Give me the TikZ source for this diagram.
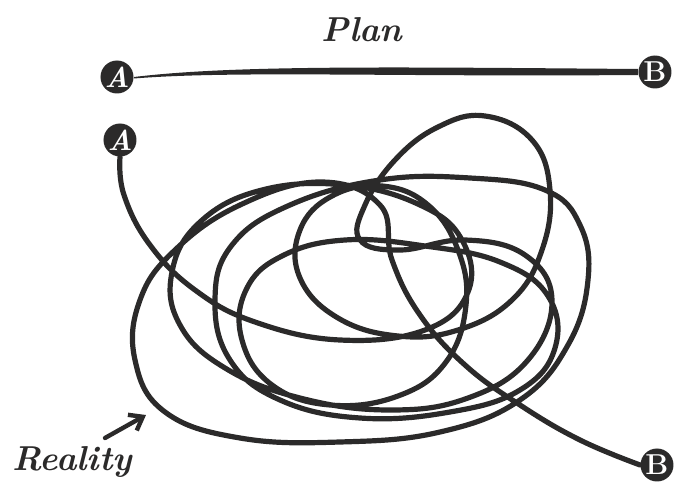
\documentclass[tikz,border=0pt]{standalone}
\usepackage{tikz}
\usetikzlibrary{arrows.meta,positioning,calc}
\definecolor{ink}{HTML}{2B2A2A}

\begin{document}
\begin{tikzpicture}[
    x=0.5pt, y=-0.5pt,
    pin/.style={circle, fill=ink, text=white, minimum size=16.5pt, inner sep=0pt, font=\bfseries\Large},
    wire/.style={draw=ink, line width=2.6pt, line cap=round, line join=round},
    caption/.style={text=ink, font=\bfseries\itshape\LARGE}
]
\useasboundingbox (0,0) rectangle (677,487);

% plan
\node[caption] (plan) at (362,30) {Plan};
\node[pin] (planA) at (117,77) {\itshape A};
\node[pin] (planB) at (655,72) {B};
\fill[ink] (planA.east) .. controls +(100,-12) and +(-250,-2) .. ($(planB.west)+(0,-3)$)
    -- ($(planB.west)+(0,3)$) .. controls +(-250,2) and +(100,-8) .. ($(planA.east)+(0,1.5)$) -- cycle;

% reality
\node[pin] (realA) at (120,140) {\itshape A};
\node[pin] (realB) at (657,465) {B};
\draw[wire] plot[smooth, tension=0.7] coordinates {
    (realA.south) (124,195) (150,245) (195,290) (255,322) (340,340) (425,330)
    (468,292) (462,240) (420,205) (345,185) (262,190) (200,222) (172,272)
    (180,325) (225,368) (300,398) (390,410) (468,398) (528,360) (552,300)
    (525,255) (465,240) (400,250) (360,240) (365,205) (395,160) (438,127)
    (485,116) (532,140) (550,190) (542,250) (512,300) (458,330) (398,336)
    (338,318) (300,278)
    (300,230) (332,196) (382,186) (428,205) (458,250) (466,305) (446,362)
    (398,396) (330,405) (272,385) (242,340) (246,290) (282,256) (345,240)
    (425,246) (500,262) (548,296) (555,348) (520,390) (450,412) (360,418)
    (280,400) (230,360) (215,300) (232,245) (290,205) (380,180) (470,178)
    (545,190) (580,225) (588,280) (568,345) (520,400) (440,432) (340,442)
    (240,438) (165,412) (135,360) (140,300) (175,250) (240,205) (320,182)
    (380,205) (392,260) (420,315) (465,365) (520,405) (580,440) (realB.west)};

\node[caption] (reality) at (72,462) {Reality};
\coordinate (tail) at (105,438);
\coordinate (tip) at (146,415);
\draw[wire, line width=2.2pt, -{Straight Barb[length=6pt,width=9pt]}] (tail) -- (tip);
\end{tikzpicture}
\end{document}
